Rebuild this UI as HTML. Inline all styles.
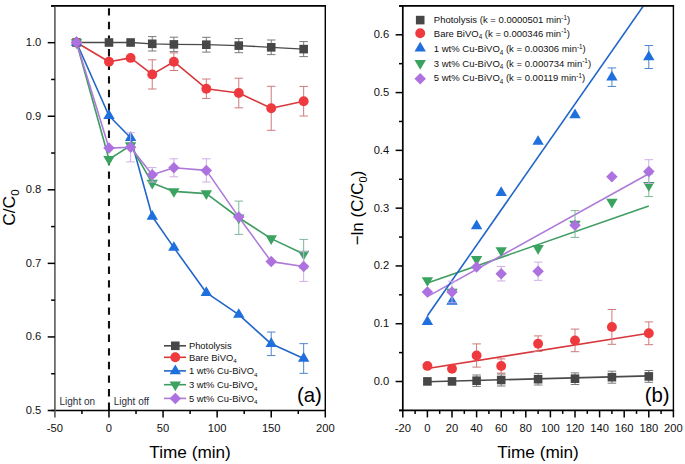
<!DOCTYPE html><html><head><meta charset="utf-8"><style>html,body{margin:0;padding:0;background:#fff;}body{width:685px;height:464px;overflow:hidden;position:relative;font-family:"Liberation Sans", sans-serif;}</style></head><body><svg width="685" height="464" viewBox="0 0 685 464" style="position:absolute;left:0;top:0;font-family:'Liberation Sans', sans-serif">
<rect width="685" height="464" fill="#fff"/>
<line x1="108.98" y1="8.2" x2="108.98" y2="410.50" stroke="#111" stroke-width="2.1" stroke-dasharray="7.4 6.2"/>
<polyline points="76.53,42.50 108.98,42.50 130.61,42.50 152.24,43.80 173.88,44.40 206.32,44.70 238.77,45.60 271.22,47.30 303.67,49.10" fill="none" stroke="#4a4a4a" stroke-width="1.3" stroke-linejoin="round"/>
<polyline points="76.53,42.50 108.98,61.70 130.61,57.90 152.24,74.40 173.88,61.70 206.32,88.70 238.77,93.00 271.22,108.30 303.67,101.20" fill="none" stroke="#d8393d" stroke-width="1.6" stroke-linejoin="round"/>
<polyline points="76.53,42.50 108.98,115.70 130.61,137.70 152.24,216.50 173.88,247.60 206.32,292.70 238.77,314.60 271.22,343.80 303.67,358.50" fill="none" stroke="#2266c8" stroke-width="1.6" stroke-linejoin="round"/>
<polyline points="76.53,42.50 108.98,159.30 130.61,145.50 152.24,183.10 173.88,191.40 206.32,193.60 238.77,217.75 271.22,238.60 303.67,254.00" fill="none" stroke="#3f9c62" stroke-width="1.6" stroke-linejoin="round"/>
<polyline points="76.53,42.50 108.98,148.10 130.61,147.30 152.24,174.80 173.88,167.80 206.32,170.40 238.77,217.10 271.22,261.60 303.67,266.50" fill="none" stroke="#ad7ad8" stroke-width="1.6" stroke-linejoin="round"/>
<line x1="152.24" y1="36.60" x2="152.24" y2="51.00" stroke="#7a7a7a" stroke-width="1"/><line x1="147.99" y1="36.60" x2="156.49" y2="36.60" stroke="#7a7a7a" stroke-width="1"/><line x1="147.99" y1="51.00" x2="156.49" y2="51.00" stroke="#7a7a7a" stroke-width="1"/>
<line x1="173.88" y1="37.20" x2="173.88" y2="51.60" stroke="#7a7a7a" stroke-width="1"/><line x1="169.63" y1="37.20" x2="178.13" y2="37.20" stroke="#7a7a7a" stroke-width="1"/><line x1="169.63" y1="51.60" x2="178.13" y2="51.60" stroke="#7a7a7a" stroke-width="1"/>
<line x1="206.32" y1="37.30" x2="206.32" y2="52.10" stroke="#7a7a7a" stroke-width="1"/><line x1="202.07" y1="37.30" x2="210.57" y2="37.30" stroke="#7a7a7a" stroke-width="1"/><line x1="202.07" y1="52.10" x2="210.57" y2="52.10" stroke="#7a7a7a" stroke-width="1"/>
<line x1="238.77" y1="38.50" x2="238.77" y2="52.70" stroke="#7a7a7a" stroke-width="1"/><line x1="234.52" y1="38.50" x2="243.02" y2="38.50" stroke="#7a7a7a" stroke-width="1"/><line x1="234.52" y1="52.70" x2="243.02" y2="52.70" stroke="#7a7a7a" stroke-width="1"/>
<line x1="271.22" y1="40.00" x2="271.22" y2="54.60" stroke="#7a7a7a" stroke-width="1"/><line x1="266.97" y1="40.00" x2="275.47" y2="40.00" stroke="#7a7a7a" stroke-width="1"/><line x1="266.97" y1="54.60" x2="275.47" y2="54.60" stroke="#7a7a7a" stroke-width="1"/>
<line x1="303.67" y1="41.60" x2="303.67" y2="56.60" stroke="#7a7a7a" stroke-width="1"/><line x1="299.42" y1="41.60" x2="307.92" y2="41.60" stroke="#7a7a7a" stroke-width="1"/><line x1="299.42" y1="56.60" x2="307.92" y2="56.60" stroke="#7a7a7a" stroke-width="1"/>
<rect x="72.23" y="38.20" width="8.6" height="8.6" fill="#474747"/>
<rect x="104.68" y="38.20" width="8.6" height="8.6" fill="#474747"/>
<rect x="126.31" y="38.20" width="8.6" height="8.6" fill="#474747"/>
<rect x="147.94" y="39.50" width="8.6" height="8.6" fill="#474747"/>
<rect x="169.58" y="40.10" width="8.6" height="8.6" fill="#474747"/>
<rect x="202.02" y="40.40" width="8.6" height="8.6" fill="#474747"/>
<rect x="234.47" y="41.30" width="8.6" height="8.6" fill="#474747"/>
<rect x="266.92" y="43.00" width="8.6" height="8.6" fill="#474747"/>
<rect x="299.37" y="44.80" width="8.6" height="8.6" fill="#474747"/>
<line x1="152.24" y1="59.80" x2="152.24" y2="89.00" stroke="#cf7a7c" stroke-width="1"/><line x1="147.99" y1="59.80" x2="156.49" y2="59.80" stroke="#cf7a7c" stroke-width="1"/><line x1="147.99" y1="89.00" x2="156.49" y2="89.00" stroke="#cf7a7c" stroke-width="1"/>
<line x1="173.88" y1="52.90" x2="173.88" y2="70.50" stroke="#cf7a7c" stroke-width="1"/><line x1="169.63" y1="52.90" x2="178.13" y2="52.90" stroke="#cf7a7c" stroke-width="1"/><line x1="169.63" y1="70.50" x2="178.13" y2="70.50" stroke="#cf7a7c" stroke-width="1"/>
<line x1="206.32" y1="79.00" x2="206.32" y2="98.40" stroke="#cf7a7c" stroke-width="1"/><line x1="202.07" y1="79.00" x2="210.57" y2="79.00" stroke="#cf7a7c" stroke-width="1"/><line x1="202.07" y1="98.40" x2="210.57" y2="98.40" stroke="#cf7a7c" stroke-width="1"/>
<line x1="238.77" y1="78.20" x2="238.77" y2="107.80" stroke="#cf7a7c" stroke-width="1"/><line x1="234.52" y1="78.20" x2="243.02" y2="78.20" stroke="#cf7a7c" stroke-width="1"/><line x1="234.52" y1="107.80" x2="243.02" y2="107.80" stroke="#cf7a7c" stroke-width="1"/>
<line x1="271.22" y1="86.30" x2="271.22" y2="130.30" stroke="#cf7a7c" stroke-width="1"/><line x1="266.97" y1="86.30" x2="275.47" y2="86.30" stroke="#cf7a7c" stroke-width="1"/><line x1="266.97" y1="130.30" x2="275.47" y2="130.30" stroke="#cf7a7c" stroke-width="1"/>
<line x1="303.67" y1="86.40" x2="303.67" y2="116.00" stroke="#cf7a7c" stroke-width="1"/><line x1="299.42" y1="86.40" x2="307.92" y2="86.40" stroke="#cf7a7c" stroke-width="1"/><line x1="299.42" y1="116.00" x2="307.92" y2="116.00" stroke="#cf7a7c" stroke-width="1"/>
<circle cx="76.53" cy="42.50" r="4.95" fill="#ee3a3e"/>
<circle cx="108.98" cy="61.70" r="4.95" fill="#ee3a3e"/>
<circle cx="130.61" cy="57.90" r="4.95" fill="#ee3a3e"/>
<circle cx="152.24" cy="74.40" r="4.95" fill="#ee3a3e"/>
<circle cx="173.88" cy="61.70" r="4.95" fill="#ee3a3e"/>
<circle cx="206.32" cy="88.70" r="4.95" fill="#ee3a3e"/>
<circle cx="238.77" cy="93.00" r="4.95" fill="#ee3a3e"/>
<circle cx="271.22" cy="108.30" r="4.95" fill="#ee3a3e"/>
<circle cx="303.67" cy="101.20" r="4.95" fill="#ee3a3e"/>
<line x1="271.22" y1="332.05" x2="271.22" y2="355.55" stroke="#4f86cc" stroke-width="1"/><line x1="266.97" y1="332.05" x2="275.47" y2="332.05" stroke="#4f86cc" stroke-width="1"/><line x1="266.97" y1="355.55" x2="275.47" y2="355.55" stroke="#4f86cc" stroke-width="1"/>
<line x1="303.67" y1="343.65" x2="303.67" y2="373.35" stroke="#4f86cc" stroke-width="1"/><line x1="299.42" y1="343.65" x2="307.92" y2="343.65" stroke="#4f86cc" stroke-width="1"/><line x1="299.42" y1="373.35" x2="307.92" y2="373.35" stroke="#4f86cc" stroke-width="1"/>
<polygon points="76.53,36.03 82.23,45.73 70.83,45.73" fill="#1f6fdc"/>
<polygon points="108.98,109.23 114.68,118.93 103.28,118.93" fill="#1f6fdc"/>
<polygon points="130.61,131.23 136.31,140.93 124.91,140.93" fill="#1f6fdc"/>
<polygon points="152.24,210.03 157.94,219.73 146.54,219.73" fill="#1f6fdc"/>
<polygon points="173.88,241.13 179.58,250.83 168.18,250.83" fill="#1f6fdc"/>
<polygon points="206.32,286.23 212.02,295.93 200.62,295.93" fill="#1f6fdc"/>
<polygon points="238.77,308.13 244.47,317.83 233.07,317.83" fill="#1f6fdc"/>
<polygon points="271.22,337.33 276.92,347.03 265.52,347.03" fill="#1f6fdc"/>
<polygon points="303.67,352.03 309.37,361.73 297.97,361.73" fill="#1f6fdc"/>
<line x1="238.77" y1="201.10" x2="238.77" y2="234.40" stroke="#7fb896" stroke-width="1"/><line x1="234.52" y1="201.10" x2="243.02" y2="201.10" stroke="#7fb896" stroke-width="1"/><line x1="234.52" y1="234.40" x2="243.02" y2="234.40" stroke="#7fb896" stroke-width="1"/>
<line x1="303.67" y1="239.40" x2="303.67" y2="268.60" stroke="#7fb896" stroke-width="1"/><line x1="299.42" y1="239.40" x2="307.92" y2="239.40" stroke="#7fb896" stroke-width="1"/><line x1="299.42" y1="268.60" x2="307.92" y2="268.60" stroke="#7fb896" stroke-width="1"/>
<polygon points="70.83,39.27 82.23,39.27 76.53,48.97" fill="#3aa360"/>
<polygon points="103.28,156.07 114.68,156.07 108.98,165.77" fill="#3aa360"/>
<polygon points="124.91,142.27 136.31,142.27 130.61,151.97" fill="#3aa360"/>
<polygon points="146.54,179.87 157.94,179.87 152.24,189.57" fill="#3aa360"/>
<polygon points="168.18,188.17 179.58,188.17 173.88,197.87" fill="#3aa360"/>
<polygon points="200.62,190.37 212.02,190.37 206.32,200.07" fill="#3aa360"/>
<polygon points="233.07,214.52 244.47,214.52 238.77,224.22" fill="#3aa360"/>
<polygon points="265.52,235.37 276.92,235.37 271.22,245.07" fill="#3aa360"/>
<polygon points="297.97,250.77 309.37,250.77 303.67,260.47" fill="#3aa360"/>
<line x1="130.61" y1="132.70" x2="130.61" y2="161.90" stroke="#cfaee6" stroke-width="1"/><line x1="126.36" y1="132.70" x2="134.86" y2="132.70" stroke="#cfaee6" stroke-width="1"/><line x1="126.36" y1="161.90" x2="134.86" y2="161.90" stroke="#cfaee6" stroke-width="1"/>
<line x1="152.24" y1="167.60" x2="152.24" y2="182.00" stroke="#cfaee6" stroke-width="1"/><line x1="147.99" y1="167.60" x2="156.49" y2="167.60" stroke="#cfaee6" stroke-width="1"/><line x1="147.99" y1="182.00" x2="156.49" y2="182.00" stroke="#cfaee6" stroke-width="1"/>
<line x1="173.88" y1="158.80" x2="173.88" y2="176.80" stroke="#cfaee6" stroke-width="1"/><line x1="169.63" y1="158.80" x2="178.13" y2="158.80" stroke="#cfaee6" stroke-width="1"/><line x1="169.63" y1="176.80" x2="178.13" y2="176.80" stroke="#cfaee6" stroke-width="1"/>
<line x1="206.32" y1="158.80" x2="206.32" y2="182.00" stroke="#cfaee6" stroke-width="1"/><line x1="202.07" y1="158.80" x2="210.57" y2="158.80" stroke="#cfaee6" stroke-width="1"/><line x1="202.07" y1="182.00" x2="210.57" y2="182.00" stroke="#cfaee6" stroke-width="1"/>
<line x1="303.67" y1="251.60" x2="303.67" y2="281.40" stroke="#cfaee6" stroke-width="1"/><line x1="299.42" y1="251.60" x2="307.92" y2="251.60" stroke="#cfaee6" stroke-width="1"/><line x1="299.42" y1="281.40" x2="307.92" y2="281.40" stroke="#cfaee6" stroke-width="1"/>
<polygon points="76.53,36.75 82.28,42.50 76.53,48.25 70.78,42.50" fill="#ad72e0"/>
<polygon points="108.98,142.35 114.73,148.10 108.98,153.85 103.23,148.10" fill="#ad72e0"/>
<polygon points="130.61,141.55 136.36,147.30 130.61,153.05 124.86,147.30" fill="#ad72e0"/>
<polygon points="152.24,169.05 157.99,174.80 152.24,180.55 146.49,174.80" fill="#ad72e0"/>
<polygon points="173.88,162.05 179.63,167.80 173.88,173.55 168.13,167.80" fill="#ad72e0"/>
<polygon points="206.32,164.65 212.07,170.40 206.32,176.15 200.57,170.40" fill="#ad72e0"/>
<polygon points="238.77,211.35 244.52,217.10 238.77,222.85 233.02,217.10" fill="#ad72e0"/>
<polygon points="271.22,255.85 276.97,261.60 271.22,267.35 265.47,261.60" fill="#ad72e0"/>
<polygon points="303.67,260.75 309.42,266.50 303.67,272.25 297.92,266.50" fill="#ad72e0"/>
<line x1="51.2" y1="5.90" x2="326.00" y2="5.90" stroke="#000" stroke-width="1.6"/>
<line x1="325.30" y1="5.90" x2="325.30" y2="410.50" stroke="#000" stroke-width="1.4"/>
<line x1="51.2" y1="410.50" x2="326.00" y2="410.50" stroke="#000" stroke-width="1.5"/>
<line x1="54.90" y1="5.90" x2="54.90" y2="411.20" stroke="#5a5a5a" stroke-width="1.6"/>
<line x1="47.70" y1="410.50" x2="54.90" y2="410.50" stroke="#000" stroke-width="1.5"/>
<text x="41.30" y="414.00" font-size="11.2" text-anchor="end" fill="#111">0.5</text>
<line x1="51.10" y1="373.72" x2="54.90" y2="373.72" stroke="#000" stroke-width="1.5"/>
<line x1="47.70" y1="336.94" x2="54.90" y2="336.94" stroke="#000" stroke-width="1.5"/>
<text x="41.30" y="340.44" font-size="11.2" text-anchor="end" fill="#111">0.6</text>
<line x1="51.10" y1="300.15" x2="54.90" y2="300.15" stroke="#000" stroke-width="1.5"/>
<line x1="47.70" y1="263.37" x2="54.90" y2="263.37" stroke="#000" stroke-width="1.5"/>
<text x="41.30" y="266.87" font-size="11.2" text-anchor="end" fill="#111">0.7</text>
<line x1="51.10" y1="226.59" x2="54.90" y2="226.59" stroke="#000" stroke-width="1.5"/>
<line x1="47.70" y1="189.81" x2="54.90" y2="189.81" stroke="#000" stroke-width="1.5"/>
<text x="41.30" y="193.31" font-size="11.2" text-anchor="end" fill="#111">0.8</text>
<line x1="51.10" y1="153.03" x2="54.90" y2="153.03" stroke="#000" stroke-width="1.5"/>
<line x1="47.70" y1="116.25" x2="54.90" y2="116.25" stroke="#000" stroke-width="1.5"/>
<text x="41.30" y="119.75" font-size="11.2" text-anchor="end" fill="#111">0.9</text>
<line x1="51.10" y1="79.46" x2="54.90" y2="79.46" stroke="#000" stroke-width="1.5"/>
<line x1="47.70" y1="42.68" x2="54.90" y2="42.68" stroke="#000" stroke-width="1.5"/>
<text x="41.30" y="46.18" font-size="11.2" text-anchor="end" fill="#111">1.0</text>
<line x1="51.10" y1="5.90" x2="54.90" y2="5.90" stroke="#000" stroke-width="1.5"/>
<line x1="54.90" y1="410.50" x2="54.90" y2="417.50" stroke="#5a5a5a" stroke-width="1.6"/>
<text x="54.90" y="432.20" font-size="11.2" text-anchor="middle" fill="#111">-50</text>
<line x1="81.94" y1="410.50" x2="81.94" y2="414.00" stroke="#000" stroke-width="1.5"/>
<line x1="108.98" y1="410.50" x2="108.98" y2="417.50" stroke="#000" stroke-width="1.5"/>
<text x="108.98" y="432.20" font-size="11.2" text-anchor="middle" fill="#111">0</text>
<line x1="136.02" y1="410.50" x2="136.02" y2="414.00" stroke="#000" stroke-width="1.5"/>
<line x1="163.06" y1="410.50" x2="163.06" y2="417.50" stroke="#000" stroke-width="1.5"/>
<text x="163.06" y="432.20" font-size="11.2" text-anchor="middle" fill="#111">50</text>
<line x1="190.10" y1="410.50" x2="190.10" y2="414.00" stroke="#000" stroke-width="1.5"/>
<line x1="217.14" y1="410.50" x2="217.14" y2="417.50" stroke="#000" stroke-width="1.5"/>
<text x="217.14" y="432.20" font-size="11.2" text-anchor="middle" fill="#111">100</text>
<line x1="244.18" y1="410.50" x2="244.18" y2="414.00" stroke="#000" stroke-width="1.5"/>
<line x1="271.22" y1="410.50" x2="271.22" y2="417.50" stroke="#000" stroke-width="1.5"/>
<text x="271.22" y="432.20" font-size="11.2" text-anchor="middle" fill="#111">150</text>
<line x1="298.26" y1="410.50" x2="298.26" y2="414.00" stroke="#000" stroke-width="1.5"/>
<line x1="325.30" y1="410.50" x2="325.30" y2="417.50" stroke="#000" stroke-width="1.5"/>
<text x="325.30" y="432.20" font-size="11.2" text-anchor="middle" fill="#111">200</text>
<text x="190.10" y="457.7" font-size="17.2" text-anchor="middle" fill="#000">Time (min)</text>
<text transform="translate(14.6,207.6) rotate(-90)" font-size="17.4" text-anchor="middle" fill="#000">C/C<tspan font-size="11.5" dy="4">0</tspan></text>
<text x="59.5" y="405.0" font-size="10.0" fill="#2a3040">Light on</text>
<text x="113.7" y="405.0" font-size="10.0" fill="#2a3040">Light off</text>
<text x="321.8" y="402.3" font-size="20.4" text-anchor="end" fill="#000">(a)</text>
<line x1="164" y1="345.80" x2="186" y2="345.80" stroke="#4a4a4a" stroke-width="1.6"/>
<rect x="171.00" y="341.50" width="8.6" height="8.6" fill="#474747"/>
<text x="188.9" y="348.80" font-size="9.4" fill="#111">Photolysis</text>
<line x1="164" y1="357.30" x2="186" y2="357.30" stroke="#d8393d" stroke-width="1.6"/>
<circle cx="175.30" cy="357.30" r="4.95" fill="#ee3a3e"/>
<text x="188.9" y="360.60" font-size="9.4" fill="#111">Bare BiVO<tspan font-size="6.2" dy="2.6">4</tspan></text>
<line x1="164" y1="370.90" x2="186" y2="370.90" stroke="#2266c8" stroke-width="1.6"/>
<polygon points="175.30,364.43 181.00,374.13 169.60,374.13" fill="#1f6fdc"/>
<text x="188.9" y="374.30" font-size="9.4" fill="#111">1 wt% Cu-BiVO<tspan font-size="6.2" dy="2.6">4</tspan></text>
<line x1="164" y1="384.70" x2="186" y2="384.70" stroke="#3f9c62" stroke-width="1.6"/>
<polygon points="169.60,381.47 181.00,381.47 175.30,391.17" fill="#3aa360"/>
<text x="188.9" y="388.10" font-size="9.4" fill="#111">3 wt% Cu-BiVO<tspan font-size="6.2" dy="2.6">4</tspan></text>
<line x1="164" y1="398.40" x2="186" y2="398.40" stroke="#ad7ad8" stroke-width="1.6"/>
<polygon points="175.30,392.65 181.05,398.40 175.30,404.15 169.55,398.40" fill="#ad72e0"/>
<text x="188.9" y="401.70" font-size="9.4" fill="#111">5 wt% Cu-BiVO<tspan font-size="6.2" dy="2.6">4</tspan></text>
<defs><clipPath id="cb"><rect x="403.6" y="6.7" width="269" height="403"/></clipPath></defs>
<line x1="427.40" y1="381.70" x2="648.80" y2="375.90" stroke="#4a4a4a" stroke-width="1.6"/>
<line x1="427.40" y1="368.50" x2="648.80" y2="333.20" stroke="#d8393d" stroke-width="1.6"/>
<line x1="427.40" y1="283.00" x2="648.80" y2="206.10" stroke="#3f9c62" stroke-width="1.6"/>
<line x1="427.40" y1="296.60" x2="648.80" y2="173.80" stroke="#ad7ad8" stroke-width="1.6"/>
<line x1="427.40" y1="315.74" x2="648.80" y2="-1.85" stroke="#2266c8" stroke-width="1.6" clip-path="url(#cb)"/>
<line x1="476.60" y1="375.00" x2="476.60" y2="386.40" stroke="#7a7a7a" stroke-width="1"/><line x1="472.35" y1="375.00" x2="480.85" y2="375.00" stroke="#7a7a7a" stroke-width="1"/><line x1="472.35" y1="386.40" x2="480.85" y2="386.40" stroke="#7a7a7a" stroke-width="1"/>
<line x1="501.20" y1="374.00" x2="501.20" y2="386.00" stroke="#7a7a7a" stroke-width="1"/><line x1="496.95" y1="374.00" x2="505.45" y2="374.00" stroke="#7a7a7a" stroke-width="1"/><line x1="496.95" y1="386.00" x2="505.45" y2="386.00" stroke="#7a7a7a" stroke-width="1"/>
<line x1="538.10" y1="373.40" x2="538.10" y2="385.00" stroke="#7a7a7a" stroke-width="1"/><line x1="533.85" y1="373.40" x2="542.35" y2="373.40" stroke="#7a7a7a" stroke-width="1"/><line x1="533.85" y1="385.00" x2="542.35" y2="385.00" stroke="#7a7a7a" stroke-width="1"/>
<line x1="575.00" y1="372.90" x2="575.00" y2="384.50" stroke="#7a7a7a" stroke-width="1"/><line x1="570.75" y1="372.90" x2="579.25" y2="372.90" stroke="#7a7a7a" stroke-width="1"/><line x1="570.75" y1="384.50" x2="579.25" y2="384.50" stroke="#7a7a7a" stroke-width="1"/>
<line x1="611.90" y1="371.20" x2="611.90" y2="383.20" stroke="#7a7a7a" stroke-width="1"/><line x1="607.65" y1="371.20" x2="616.15" y2="371.20" stroke="#7a7a7a" stroke-width="1"/><line x1="607.65" y1="383.20" x2="616.15" y2="383.20" stroke="#7a7a7a" stroke-width="1"/>
<line x1="648.80" y1="370.50" x2="648.80" y2="382.30" stroke="#7a7a7a" stroke-width="1"/><line x1="644.55" y1="370.50" x2="653.05" y2="370.50" stroke="#7a7a7a" stroke-width="1"/><line x1="644.55" y1="382.30" x2="653.05" y2="382.30" stroke="#7a7a7a" stroke-width="1"/>
<rect x="423.10" y="377.10" width="8.6" height="8.6" fill="#474747"/>
<rect x="447.70" y="377.10" width="8.6" height="8.6" fill="#474747"/>
<rect x="472.30" y="376.40" width="8.6" height="8.6" fill="#474747"/>
<rect x="496.90" y="375.70" width="8.6" height="8.6" fill="#474747"/>
<rect x="533.80" y="374.90" width="8.6" height="8.6" fill="#474747"/>
<rect x="570.70" y="374.40" width="8.6" height="8.6" fill="#474747"/>
<rect x="607.60" y="372.90" width="8.6" height="8.6" fill="#474747"/>
<rect x="644.50" y="372.10" width="8.6" height="8.6" fill="#474747"/>
<line x1="476.60" y1="343.90" x2="476.60" y2="367.10" stroke="#cf7a7c" stroke-width="1"/><line x1="472.35" y1="343.90" x2="480.85" y2="343.90" stroke="#cf7a7c" stroke-width="1"/><line x1="472.35" y1="367.10" x2="480.85" y2="367.10" stroke="#cf7a7c" stroke-width="1"/>
<line x1="501.20" y1="358.90" x2="501.20" y2="373.10" stroke="#cf7a7c" stroke-width="1"/><line x1="496.95" y1="358.90" x2="505.45" y2="358.90" stroke="#cf7a7c" stroke-width="1"/><line x1="496.95" y1="373.10" x2="505.45" y2="373.10" stroke="#cf7a7c" stroke-width="1"/>
<line x1="538.10" y1="335.90" x2="538.10" y2="351.50" stroke="#cf7a7c" stroke-width="1"/><line x1="533.85" y1="335.90" x2="542.35" y2="335.90" stroke="#cf7a7c" stroke-width="1"/><line x1="533.85" y1="351.50" x2="542.35" y2="351.50" stroke="#cf7a7c" stroke-width="1"/>
<line x1="575.00" y1="329.10" x2="575.00" y2="351.70" stroke="#cf7a7c" stroke-width="1"/><line x1="570.75" y1="329.10" x2="579.25" y2="329.10" stroke="#cf7a7c" stroke-width="1"/><line x1="570.75" y1="351.70" x2="579.25" y2="351.70" stroke="#cf7a7c" stroke-width="1"/>
<line x1="611.90" y1="309.50" x2="611.90" y2="344.30" stroke="#cf7a7c" stroke-width="1"/><line x1="607.65" y1="309.50" x2="616.15" y2="309.50" stroke="#cf7a7c" stroke-width="1"/><line x1="607.65" y1="344.30" x2="616.15" y2="344.30" stroke="#cf7a7c" stroke-width="1"/>
<line x1="648.80" y1="321.90" x2="648.80" y2="344.70" stroke="#cf7a7c" stroke-width="1"/><line x1="644.55" y1="321.90" x2="653.05" y2="321.90" stroke="#cf7a7c" stroke-width="1"/><line x1="644.55" y1="344.70" x2="653.05" y2="344.70" stroke="#cf7a7c" stroke-width="1"/>
<circle cx="427.40" cy="365.90" r="4.95" fill="#ee3a3e"/>
<circle cx="452.00" cy="368.70" r="4.95" fill="#ee3a3e"/>
<circle cx="476.60" cy="355.50" r="4.95" fill="#ee3a3e"/>
<circle cx="501.20" cy="366.00" r="4.95" fill="#ee3a3e"/>
<circle cx="538.10" cy="343.70" r="4.95" fill="#ee3a3e"/>
<circle cx="575.00" cy="340.40" r="4.95" fill="#ee3a3e"/>
<circle cx="611.90" cy="326.90" r="4.95" fill="#ee3a3e"/>
<circle cx="648.80" cy="333.30" r="4.95" fill="#ee3a3e"/>
<line x1="611.90" y1="67.95" x2="611.90" y2="86.45" stroke="#4f86cc" stroke-width="1"/><line x1="607.65" y1="67.95" x2="616.15" y2="67.95" stroke="#4f86cc" stroke-width="1"/><line x1="607.65" y1="86.45" x2="616.15" y2="86.45" stroke="#4f86cc" stroke-width="1"/>
<line x1="648.80" y1="45.50" x2="648.80" y2="68.50" stroke="#4f86cc" stroke-width="1"/><line x1="644.55" y1="45.50" x2="653.05" y2="45.50" stroke="#4f86cc" stroke-width="1"/><line x1="644.55" y1="68.50" x2="653.05" y2="68.50" stroke="#4f86cc" stroke-width="1"/>
<polygon points="427.40,315.23 433.10,324.93 421.70,324.93" fill="#1f6fdc"/>
<polygon points="452.00,295.13 457.70,304.83 446.30,304.83" fill="#1f6fdc"/>
<polygon points="476.60,219.43 482.30,229.13 470.90,229.13" fill="#1f6fdc"/>
<polygon points="501.20,186.23 506.90,195.93 495.50,195.93" fill="#1f6fdc"/>
<polygon points="538.10,135.13 543.80,144.83 532.40,144.83" fill="#1f6fdc"/>
<polygon points="575.00,108.43 580.70,118.13 569.30,118.13" fill="#1f6fdc"/>
<polygon points="611.90,70.73 617.60,80.43 606.20,80.43" fill="#1f6fdc"/>
<polygon points="648.80,50.53 654.50,60.23 643.10,60.23" fill="#1f6fdc"/>
<line x1="575.00" y1="210.60" x2="575.00" y2="237.40" stroke="#7fb896" stroke-width="1"/><line x1="570.75" y1="210.60" x2="579.25" y2="210.60" stroke="#7fb896" stroke-width="1"/><line x1="570.75" y1="237.40" x2="579.25" y2="237.40" stroke="#7fb896" stroke-width="1"/>
<line x1="648.80" y1="174.00" x2="648.80" y2="196.60" stroke="#7fb896" stroke-width="1"/><line x1="644.55" y1="174.00" x2="653.05" y2="174.00" stroke="#7fb896" stroke-width="1"/><line x1="644.55" y1="196.60" x2="653.05" y2="196.60" stroke="#7fb896" stroke-width="1"/>
<polygon points="421.70,277.17 433.10,277.17 427.40,286.87" fill="#3aa360"/>
<polygon points="446.30,288.77 457.70,288.77 452.00,298.47" fill="#3aa360"/>
<polygon points="470.90,255.97 482.30,255.97 476.60,265.67" fill="#3aa360"/>
<polygon points="495.50,247.17 506.90,247.17 501.20,256.87" fill="#3aa360"/>
<polygon points="532.40,244.97 543.80,244.97 538.10,254.67" fill="#3aa360"/>
<polygon points="569.30,220.77 580.70,220.77 575.00,230.47" fill="#3aa360"/>
<polygon points="606.20,198.77 617.60,198.77 611.90,208.47" fill="#3aa360"/>
<polygon points="643.10,182.07 654.50,182.07 648.80,191.77" fill="#3aa360"/>
<line x1="452.00" y1="281.20" x2="452.00" y2="302.80" stroke="#cfaee6" stroke-width="1"/><line x1="447.75" y1="281.20" x2="456.25" y2="281.20" stroke="#cfaee6" stroke-width="1"/><line x1="447.75" y1="302.80" x2="456.25" y2="302.80" stroke="#cfaee6" stroke-width="1"/>
<line x1="501.20" y1="266.45" x2="501.20" y2="280.95" stroke="#cfaee6" stroke-width="1"/><line x1="496.95" y1="266.45" x2="505.45" y2="266.45" stroke="#cfaee6" stroke-width="1"/><line x1="496.95" y1="280.95" x2="505.45" y2="280.95" stroke="#cfaee6" stroke-width="1"/>
<line x1="538.10" y1="262.10" x2="538.10" y2="280.30" stroke="#cfaee6" stroke-width="1"/><line x1="533.85" y1="262.10" x2="542.35" y2="262.10" stroke="#cfaee6" stroke-width="1"/><line x1="533.85" y1="280.30" x2="542.35" y2="280.30" stroke="#cfaee6" stroke-width="1"/>
<line x1="648.80" y1="159.70" x2="648.80" y2="183.50" stroke="#cfaee6" stroke-width="1"/><line x1="644.55" y1="159.70" x2="653.05" y2="159.70" stroke="#cfaee6" stroke-width="1"/><line x1="644.55" y1="183.50" x2="653.05" y2="183.50" stroke="#cfaee6" stroke-width="1"/>
<polygon points="427.40,286.15 433.15,291.90 427.40,297.65 421.65,291.90" fill="#ad72e0"/>
<polygon points="452.00,286.25 457.75,292.00 452.00,297.75 446.25,292.00" fill="#ad72e0"/>
<polygon points="476.60,261.15 482.35,266.90 476.60,272.65 470.85,266.90" fill="#ad72e0"/>
<polygon points="501.20,267.95 506.95,273.70 501.20,279.45 495.45,273.70" fill="#ad72e0"/>
<polygon points="538.10,265.45 543.85,271.20 538.10,276.95 532.35,271.20" fill="#ad72e0"/>
<polygon points="575.00,219.45 580.75,225.20 575.00,230.95 569.25,225.20" fill="#ad72e0"/>
<polygon points="611.90,171.05 617.65,176.80 611.90,182.55 606.15,176.80" fill="#ad72e0"/>
<polygon points="648.80,165.85 654.55,171.60 648.80,177.35 643.05,171.60" fill="#ad72e0"/>
<line x1="399.2" y1="5.90" x2="674.10" y2="5.90" stroke="#000" stroke-width="1.6"/>
<line x1="673.40" y1="5.90" x2="673.40" y2="410.40" stroke="#000" stroke-width="1.4"/>
<line x1="399.2" y1="410.40" x2="674.10" y2="410.40" stroke="#000" stroke-width="1.6"/>
<line x1="402.80" y1="5.90" x2="402.80" y2="411.10" stroke="#000" stroke-width="1.7"/>
<line x1="399.00" y1="410.40" x2="402.80" y2="410.40" stroke="#000" stroke-width="1.5"/>
<line x1="395.60" y1="381.51" x2="402.80" y2="381.51" stroke="#000" stroke-width="1.5"/>
<text x="389.20" y="385.01" font-size="11.2" text-anchor="end" fill="#111">0.0</text>
<line x1="399.00" y1="352.61" x2="402.80" y2="352.61" stroke="#000" stroke-width="1.5"/>
<line x1="395.60" y1="323.72" x2="402.80" y2="323.72" stroke="#000" stroke-width="1.5"/>
<text x="389.20" y="327.22" font-size="11.2" text-anchor="end" fill="#111">0.1</text>
<line x1="399.00" y1="294.83" x2="402.80" y2="294.83" stroke="#000" stroke-width="1.5"/>
<line x1="395.60" y1="265.94" x2="402.80" y2="265.94" stroke="#000" stroke-width="1.5"/>
<text x="389.20" y="269.44" font-size="11.2" text-anchor="end" fill="#111">0.2</text>
<line x1="399.00" y1="237.04" x2="402.80" y2="237.04" stroke="#000" stroke-width="1.5"/>
<line x1="395.60" y1="208.15" x2="402.80" y2="208.15" stroke="#000" stroke-width="1.5"/>
<text x="389.20" y="211.65" font-size="11.2" text-anchor="end" fill="#111">0.3</text>
<line x1="399.00" y1="179.26" x2="402.80" y2="179.26" stroke="#000" stroke-width="1.5"/>
<line x1="395.60" y1="150.36" x2="402.80" y2="150.36" stroke="#000" stroke-width="1.5"/>
<text x="389.20" y="153.86" font-size="11.2" text-anchor="end" fill="#111">0.4</text>
<line x1="399.00" y1="121.47" x2="402.80" y2="121.47" stroke="#000" stroke-width="1.5"/>
<line x1="395.60" y1="92.58" x2="402.80" y2="92.58" stroke="#000" stroke-width="1.5"/>
<text x="389.20" y="96.08" font-size="11.2" text-anchor="end" fill="#111">0.5</text>
<line x1="399.00" y1="63.69" x2="402.80" y2="63.69" stroke="#000" stroke-width="1.5"/>
<line x1="395.60" y1="34.79" x2="402.80" y2="34.79" stroke="#000" stroke-width="1.5"/>
<text x="389.20" y="38.29" font-size="11.2" text-anchor="end" fill="#111">0.6</text>
<line x1="399.00" y1="5.90" x2="402.80" y2="5.90" stroke="#000" stroke-width="1.5"/>
<line x1="402.80" y1="410.40" x2="402.80" y2="417.40" stroke="#000" stroke-width="1.5"/>
<text x="402.80" y="432.10" font-size="11.2" text-anchor="middle" fill="#111">-20</text>
<line x1="415.10" y1="410.40" x2="415.10" y2="413.90" stroke="#000" stroke-width="1.5"/>
<line x1="427.40" y1="410.40" x2="427.40" y2="417.40" stroke="#000" stroke-width="1.5"/>
<text x="427.40" y="432.10" font-size="11.2" text-anchor="middle" fill="#111">0</text>
<line x1="439.70" y1="410.40" x2="439.70" y2="413.90" stroke="#000" stroke-width="1.5"/>
<line x1="452.00" y1="410.40" x2="452.00" y2="417.40" stroke="#000" stroke-width="1.5"/>
<text x="452.00" y="432.10" font-size="11.2" text-anchor="middle" fill="#111">20</text>
<line x1="464.30" y1="410.40" x2="464.30" y2="413.90" stroke="#000" stroke-width="1.5"/>
<line x1="476.60" y1="410.40" x2="476.60" y2="417.40" stroke="#000" stroke-width="1.5"/>
<text x="476.60" y="432.10" font-size="11.2" text-anchor="middle" fill="#111">40</text>
<line x1="488.90" y1="410.40" x2="488.90" y2="413.90" stroke="#000" stroke-width="1.5"/>
<line x1="501.20" y1="410.40" x2="501.20" y2="417.40" stroke="#000" stroke-width="1.5"/>
<text x="501.20" y="432.10" font-size="11.2" text-anchor="middle" fill="#111">60</text>
<line x1="513.50" y1="410.40" x2="513.50" y2="413.90" stroke="#000" stroke-width="1.5"/>
<line x1="525.80" y1="410.40" x2="525.80" y2="417.40" stroke="#000" stroke-width="1.5"/>
<text x="525.80" y="432.10" font-size="11.2" text-anchor="middle" fill="#111">80</text>
<line x1="538.10" y1="410.40" x2="538.10" y2="413.90" stroke="#000" stroke-width="1.5"/>
<line x1="550.40" y1="410.40" x2="550.40" y2="417.40" stroke="#000" stroke-width="1.5"/>
<text x="550.40" y="432.10" font-size="11.2" text-anchor="middle" fill="#111">100</text>
<line x1="562.70" y1="410.40" x2="562.70" y2="413.90" stroke="#000" stroke-width="1.5"/>
<line x1="575.00" y1="410.40" x2="575.00" y2="417.40" stroke="#000" stroke-width="1.5"/>
<text x="575.00" y="432.10" font-size="11.2" text-anchor="middle" fill="#111">120</text>
<line x1="587.30" y1="410.40" x2="587.30" y2="413.90" stroke="#000" stroke-width="1.5"/>
<line x1="599.60" y1="410.40" x2="599.60" y2="417.40" stroke="#000" stroke-width="1.5"/>
<text x="599.60" y="432.10" font-size="11.2" text-anchor="middle" fill="#111">140</text>
<line x1="611.90" y1="410.40" x2="611.90" y2="413.90" stroke="#000" stroke-width="1.5"/>
<line x1="624.20" y1="410.40" x2="624.20" y2="417.40" stroke="#000" stroke-width="1.5"/>
<text x="624.20" y="432.10" font-size="11.2" text-anchor="middle" fill="#111">160</text>
<line x1="636.50" y1="410.40" x2="636.50" y2="413.90" stroke="#000" stroke-width="1.5"/>
<line x1="648.80" y1="410.40" x2="648.80" y2="417.40" stroke="#000" stroke-width="1.5"/>
<text x="648.80" y="432.10" font-size="11.2" text-anchor="middle" fill="#111">180</text>
<line x1="661.10" y1="410.40" x2="661.10" y2="413.90" stroke="#000" stroke-width="1.5"/>
<line x1="673.40" y1="410.40" x2="673.40" y2="417.40" stroke="#000" stroke-width="1.5"/>
<text x="673.40" y="432.10" font-size="11.2" text-anchor="middle" fill="#111">200</text>
<text x="538.10" y="457.7" font-size="17.2" text-anchor="middle" fill="#000">Time (min)</text>
<text transform="translate(362.7,208) rotate(-90)" font-size="17.0" text-anchor="middle" fill="#000">−ln (C/C<tspan font-size="11.2" dy="4">0</tspan><tspan dy="-4">)</tspan></text>
<text x="669.6" y="402.3" font-size="20.4" text-anchor="end" fill="#000">(b)</text>
<rect x="415.90" y="15.80" width="8.6" height="8.6" fill="#474747"/>
<text x="433.8" y="23.40" font-size="9.5" fill="#111">Photolysis (k = 0.0000501 min<tspan font-size="6.3" dy="-3.4">-1</tspan><tspan dy="3.4">)</tspan></text>
<circle cx="420.20" cy="33.20" r="4.95" fill="#ee3a3e"/>
<text x="433.8" y="36.60" font-size="9.5" fill="#111">Bare BiVO<tspan font-size="6.3" dy="2.6">4</tspan><tspan dy="-2.6"> </tspan>(k = 0.000346 min<tspan font-size="6.3" dy="-3.4">-1</tspan><tspan dy="3.4">)</tspan></text>
<polygon points="420.20,41.83 425.90,51.53 414.50,51.53" fill="#1f6fdc"/>
<text x="433.8" y="51.90" font-size="9.5" fill="#111">1 wt% Cu-BiVO<tspan font-size="6.3" dy="2.6">4</tspan><tspan dy="-2.6"> </tspan>(k = 0.00306 min<tspan font-size="6.3" dy="-3.4">-1</tspan><tspan dy="3.4">)</tspan></text>
<polygon points="414.50,60.07 425.90,60.07 420.20,69.77" fill="#3aa360"/>
<text x="433.8" y="66.80" font-size="9.5" fill="#111">3 wt% Cu-BiVO<tspan font-size="6.3" dy="2.6">4</tspan><tspan dy="-2.6"> </tspan>(k = 0.000734 min<tspan font-size="6.3" dy="-3.4">-1</tspan><tspan dy="3.4">)</tspan></text>
<polygon points="420.20,72.95 425.95,78.70 420.20,84.45 414.45,78.70" fill="#ad72e0"/>
<text x="433.8" y="81.20" font-size="9.5" fill="#111">5 wt% Cu-BiVO<tspan font-size="6.3" dy="2.6">4</tspan><tspan dy="-2.6"> </tspan>(k = 0.00119 min<tspan font-size="6.3" dy="-3.4">-1</tspan><tspan dy="3.4">)</tspan></text>
</svg></body></html>
